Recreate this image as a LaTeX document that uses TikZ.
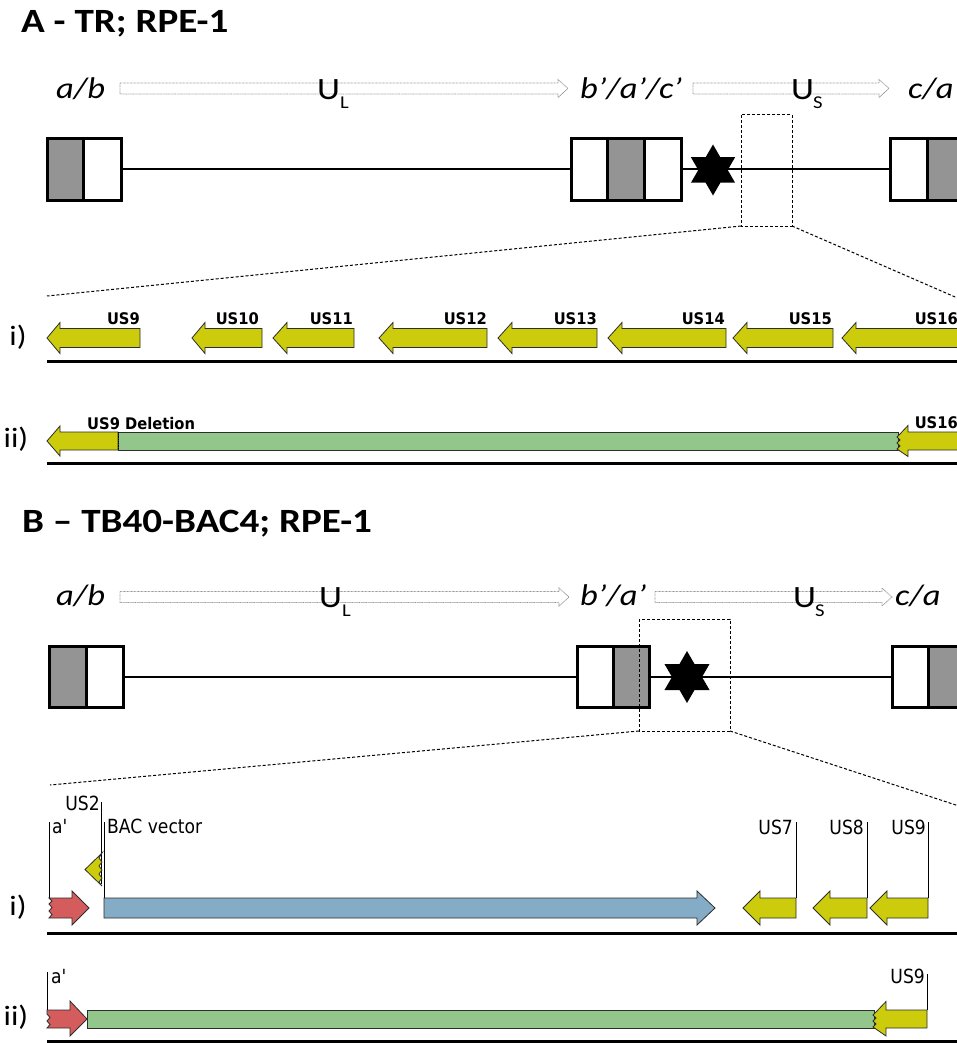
\documentclass[tikz,border=0pt]{standalone}
\usepackage{fontspec}
\setmainfont[FakeStretch=1.15]{Carlito}
\newfontfamily\genefontA[FakeStretch=0.92]{DejaVu Sans}
\newfontfamily\genefontB[FakeStretch=0.88]{DejaVu Sans}
\definecolor{genyellow}{RGB}{204,204,12}
\definecolor{delgreen}{RGB}{147,198,138}
\definecolor{bacblue}{RGB}{133,172,198}
\definecolor{redarr}{RGB}{212,92,92}
\definecolor{boxgrey}{RGB}{148,148,148}
\definecolor{outl}{RGB}{45,45,45}
\tikzset{
  ttl/.style={anchor=base west, inner sep=0, font=\fontsize{34}{34}\selectfont\bfseries},
  seglab/.style={anchor=base west, inner sep=0, font=\fontsize{30}{30}\selectfont\itshape},
  ulab/.style={anchor=base west, inner sep=0, font=\fontsize{31}{31}\selectfont},
  sublab/.style={anchor=base west, inner sep=0, font=\fontsize{18}{18}\selectfont},
  rowlab/.style={anchor=center, inner sep=0, font=\fontsize{28}{28}\selectfont},
  geneA/.style={anchor=base east, inner sep=0, font=\genefontA\bfseries\fontsize{16}{16}\selectfont},
  geneB/.style={anchor=base east, inner sep=0, font=\genefontB\fontsize{19.5}{19.5}\selectfont},
  geneBw/.style={anchor=base west, inner sep=0, font=\genefontB\fontsize{19.5}{19.5}\selectfont},
  genearrow/.style={draw=outl, line width=0.8pt, line join=miter},
  seqbox/.style={draw=black, line width=3pt},
  genome/.style={draw=black, line width=2.3pt},
  hollow/.style={draw=gray!80, line width=0.8pt, dash pattern=on 0.8pt off 0.6pt},
  zoomdash/.style={draw=black, line width=1pt, dash pattern=on 3pt off 2pt},
  trackline/.style={draw=black, line width=3pt},
  pointer/.style={draw=black, line width=1pt},
}
% left-pointing gene arrow, section A: tip, head back, end, centre y
\newcommand\LgeneA[4]{%
  \filldraw[genearrow,fill=genyellow] (#1,#4) -- (#2,#4-15.5) -- (#2,#4-9.5) -- (#3,#4-9.5) -- (#3,#4+9.5) -- (#2,#4+9.5) -- (#2,#4+15.5) -- cycle;}
% left-pointing gene arrow, section B
\newcommand\LgeneB[4]{%
  \filldraw[genearrow,fill=genyellow] (#1,#4) -- (#2,#4-17) -- (#2,#4-10) -- (#3,#4-10) -- (#3,#4+10) -- (#2,#4+10) -- (#2,#4+17) -- cycle;}
% hollow region arrow: start, tip, centre y
\newcommand\Hollow[3]{%
  \draw[hollow] (#1,#3-5.5) -- (#2-10,#3-5.5) -- (#2-10,#3-9) -- (#2,#3) -- (#2-10,#3+9) -- (#2-10,#3+5.5) -- (#1,#3+5.5) -- cycle;}
% six-pointed star: centre x, centre y, radius
\newcommand\Hexstar[3]{%
  \fill[shift={(#1,#2)}] (90:#3) -- (210:#3) -- (330:#3) -- cycle (270:#3) -- (30:#3) -- (150:#3) -- cycle;}
\begin{document}
\begin{tikzpicture}[x=1pt,y=-1pt]
\useasboundingbox (0,0) rectangle (957,1043);
\clip (0,0) rectangle (957,1043);
\fill[white] (0,0) rectangle (957,1043);

%================ SECTION A =================
\node[ttl] (titleA) at (21,33) {A - TR; RPE-1};

\Hollow{120}{568}{88.5}
\Hollow{693}{889}{88.5}
\node[seglab] (abA) at (56,99) {a/b};
\node[seglab] (bacA) at (580,99) {b’/a’/c’};
\node[seglab] (caA) at (908,99) {c/a};
\node[ulab] (ULA) at (317,100) {U};
\node[sublab] (ULAs) at (340,109) {L};
\node[ulab] (USA) at (791,100) {U};
\node[sublab] (USAs) at (813,109) {S};

% genome line and boxes
\draw[genome] (121,169) -- (571,169);
\draw[genome] (681,169) -- (890,169);
\filldraw[seqbox,fill=boxgrey] (47,139) rectangle (83,200);
\filldraw[seqbox,fill=white] (83,139) rectangle (121,200);
\filldraw[seqbox,fill=white] (571,139) rectangle (607,200);
\filldraw[seqbox,fill=boxgrey] (607,139) rectangle (644,200);
\filldraw[seqbox,fill=white] (644,139) rectangle (681,200);
\filldraw[seqbox,fill=white] (890,139) rectangle (927,200);
\filldraw[seqbox,fill=boxgrey] (927,139) rectangle (975,200);
\Hexstar{713}{170}{25.5}

% zoom window
\draw[zoomdash] (741,115) rectangle (792,226);
\coordinate (zAl) at (741,226);
\coordinate (zAr) at (792,226);
\coordinate (zAle) at (47,296);
\coordinate (zAre) at (962,300);
\draw[zoomdash] (zAl) -- (zAle);
\draw[zoomdash] (zAr) -- (zAre);

% row i
\node[rowlab] (Ai) at (18,337) {i)};
\LgeneA{47}{60}{140}{338}
\LgeneA{192}{205}{262}{338}
\LgeneA{273}{287}{354}{338}
\LgeneA{379}{393}{487}{338}
\LgeneA{498}{512}{597}{338}
\LgeneA{608}{622}{726}{338}
\LgeneA{733}{747}{833}{338}
\LgeneA{842}{856}{975}{338}
\node[geneA] (A9) at (140,324) {US9};
\node[geneA] (A10) at (259,324) {US10};
\node[geneA] (A11) at (353,324) {US11};
\node[geneA] (A12) at (487,324) {US12};
\node[geneA] (A13) at (597,324) {US13};
\node[geneA] (A14) at (725,324) {US14};
\node[geneA] (A15) at (832,324) {US15};
\node[geneA] (A16) at (958,324) {US16};
\draw[trackline] (47,361) -- (960,361);

% row ii
\node[rowlab] (Aii) at (16,439) {ii)};
\filldraw[genearrow,fill=delgreen] (118,432) rectangle (898,450);
\filldraw[genearrow,fill=genyellow] (47,441) -- (60,426) -- (60,432) -- (118,432) -- (118,450) -- (60,450) -- (60,456) -- cycle;
\draw[black, line width=0.8pt, densely dotted] (118,432) -- (118,450);
\filldraw[genearrow,fill=genyellow] (975,432) -- (908,432) -- (908,425.5) -- (900,434) -- (897,437) -- (900,440) -- (897,443) -- (900,446) -- (897,449) -- (908,456.5) -- (908,450) -- (975,450) -- cycle;
\node[geneA, anchor=base west] (A9del) at (87,429) {US9 Deletion};
\node[geneA] (A16b) at (958,428) {US16};
\draw[trackline] (47,463) -- (960,463);

%================ SECTION B =================
\node[ttl] (titleB) at (22,532) {B – TB40-BAC4; RPE-1};

\Hollow{120}{569}{597}
\Hollow{655}{892}{597}
\node[seglab] (abB) at (56,605) {a/b};
\node[seglab] (baB) at (580,605) {b’/a’};
\node[seglab] (caB) at (895,605) {c/a};
\node[ulab] (ULB) at (319,607) {U};
\node[sublab] (ULBs) at (342,616) {L};
\node[ulab] (USB) at (793,607) {U};
\node[sublab] (USBs) at (815,616) {S};

\draw[genome] (123,677) -- (577,677);
\draw[genome] (649,677) -- (892,677);
\filldraw[seqbox,fill=boxgrey] (49,646) rectangle (86,707);
\filldraw[seqbox,fill=white] (86,646) rectangle (123,707);
\filldraw[seqbox,fill=white] (577,646) rectangle (613,707);
\filldraw[seqbox,fill=boxgrey] (613,646) rectangle (649,707);
\filldraw[seqbox,fill=white] (892,646) rectangle (928,707);
\filldraw[seqbox,fill=boxgrey] (928,646) rectangle (975,707);
\Hexstar{687}{677}{26}

\draw[zoomdash] (639,619) rectangle (730,731);
\coordinate (zBl) at (639,731);
\coordinate (zBr) at (730,731);
\coordinate (zBle) at (50,785);
\coordinate (zBre) at (962,807);
\draw[zoomdash] (zBl) -- (zBle);
\draw[zoomdash] (zBr) -- (zBre);

% row i
\node[rowlab] (Bi) at (18,907) {i)};
% pointer lines
\draw[pointer] (49,822) -- (49,898);
\draw[pointer] (101.5,802) -- (101.5,884);
\draw[pointer] (104,822) -- (104,898);
\draw[pointer] (796,822) -- (796,898);
\draw[pointer] (867,822) -- (867,898);
\draw[pointer] (928,822) -- (928,898);
% red arrow a'
\filldraw[genearrow,fill=redarr] (49,898) -- (72,898) -- (72,891) -- (89,908) -- (72,925) -- (72,918) -- (49,918) -- (52,914.5) -- (49,911) -- (52,907.5) -- (49,904) -- (52,901) -- cycle;
% US2 fragment
\filldraw[genearrow,fill=genyellow] (102,853) -- (85,869.5) -- (102,886) -- (99,882) -- (102,878) -- (99,874) -- (102,870) -- (99,866) -- (102,862) -- (99,858) -- cycle;
% BAC vector
\filldraw[genearrow,fill=bacblue] (104,898) -- (697,898) -- (697,891) -- (715,908) -- (697,925) -- (697,918) -- (104,918) -- cycle;
\LgeneB{743}{760}{796}{908}
\LgeneB{813}{830}{867}{908}
\LgeneB{870}{887}{928}{908}
\node[geneB] (US2) at (100,810) {US2};
\node[geneBw] (apB1) at (52,833) {a'};
\node[geneBw] (BAC) at (107,833) {BAC vector};
\node[geneB] (B7) at (793,834) {US7};
\node[geneB] (B8) at (864,834) {US8};
\node[geneB] (B9) at (926,834) {US9};
\draw[trackline] (47,933) -- (960,933);

% row ii
\node[rowlab] (Bii) at (16,1017) {ii)};
\draw[pointer] (47,972) -- (47,1010);
\draw[pointer] (927,974) -- (927,1010);
\filldraw[genearrow,fill=delgreen] (87,1010) rectangle (874,1028);
\filldraw[genearrow,fill=redarr] (47,1010) -- (70,1010) -- (70,1001) -- (87,1019) -- (70,1036) -- (70,1028) -- (47,1028) -- (50,1024.5) -- (47,1021) -- (50,1017.5) -- (47,1014) -- cycle;
\filldraw[genearrow,fill=genyellow] (927,1010) -- (886,1010) -- (886,1001.5) -- (876,1012) -- (873,1015) -- (876,1018) -- (873,1021) -- (876,1024) -- (873,1027) -- (886,1036) -- (886,1028) -- (927,1028) -- cycle;
\node[geneBw] (apB2) at (51,983) {a'};
\node[geneB] (B9b) at (925,983) {US9};
\draw[trackline] (47,1041) -- (960,1041);
\end{tikzpicture}
\end{document}
